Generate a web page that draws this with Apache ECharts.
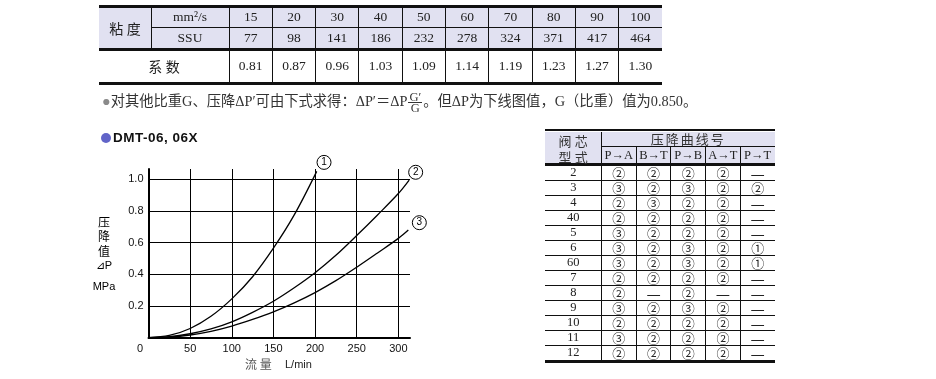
<!DOCTYPE html>
<html>
<head>
<meta charset="utf-8">
<script src="https://cdn.jsdelivr.net/npm/echarts@6/dist/echarts.min.js"></script>
<style>
  html, body { margin:0; padding:0; background:#fff; }
  #page { position:relative; width:936px; height:379px; overflow:hidden; background:#fff; }
  #chart { position:absolute; left:0; top:0; width:936px; height:379px; }
  .ln { position:absolute; background:#111; }
  .bg { position:absolute; background:#e1e1f1; }
  .cell { position:absolute; display:flex; align-items:center; justify-content:center; white-space:nowrap;
          font-family:"Liberation Serif","Noto Sans CJK SC",serif; color:#222; }
  .tx { position:absolute; white-space:nowrap; }
</style>
</head>
<body>
<div id="page">
  <div id="chart"></div>
  <div id="tables"></div>
</div>
<script>
// ---------------- data ----------------
const viscMm2 = ['15','20','30','40','50','60','70','80','90','100'];
const viscSSU = ['77','98','141','186','232','278','324','371','417','464'];
const viscCoef = ['0.81','0.87','0.96','1.03','1.09','1.14','1.19','1.23','1.27','1.30'];

const spoolTypes = ['2','3','4','40','5','6','60','7','8','9','10','11','12'];
const flowPaths = ['P→A','B→T','P→B','A→T','P→T'];
const curvePA = [2,3,2,2,3,3,3,2,2,3,2,3,2];
const curveBT = [2,2,3,2,2,2,2,2,0,2,2,2,2];
const curvePB = [2,3,2,2,2,3,3,2,2,3,2,2,2];
const curveAT = [2,2,2,2,2,2,2,2,0,2,2,2,2];
const curvePT = [0,2,0,0,0,1,1,0,0,0,0,0,0];

const flowQ1 = [0,25,50,75,100,125,150,175,202];
const dropP1 = [0,0.014,0.058,0.135,0.245,0.385,0.565,0.775,1.05];
const flowQ2 = [0,25,50,75,100,125,150,175,200,225,250,275,300,313];
const dropP2 = [0,0.006,0.025,0.055,0.10,0.16,0.23,0.315,0.41,0.52,0.645,0.775,0.91,0.995];
const flowQ3 = [0,25,50,75,100,125,150,175,200,225,250,275,300,312];
const dropP3 = [0,0.004,0.017,0.04,0.073,0.115,0.163,0.22,0.285,0.36,0.445,0.535,0.627,0.68];

const xTicks = [0,50,100,150,200,250,300];
const yTicks = [0.2,0.4,0.6,0.8,1.0];

// ---------------- html tables ----------------
const host = document.getElementById('tables');
function el(cls, css, text) {
  const d = document.createElement('div');
  d.className = cls;
  Object.assign(d.style, css);
  if (text !== undefined) d.textContent = text;
  host.appendChild(d);
  return d;
}
function hl(x1, x2, y, t) { el('ln', {left:x1+'px', top:(y - t/2)+'px', width:(x2-x1)+'px', height:t+'px'}); }
function vl(x, y1, y2, t) { el('ln', {left:(x - t/2)+'px', top:y1+'px', width:t+'px', height:(y2-y1)+'px'}); }
function bg(x1, y1, x2, y2) { el('bg', {left:x1+'px', top:y1+'px', width:(x2-x1)+'px', height:(y2-y1)+'px'}); }
function cell(x1, y1, x2, y2, text, fs, extra) {
  return el('cell', Object.assign({left:x1+'px', top:y1+'px', width:(x2-x1)+'px', height:(y2-y1)+'px', fontSize:fs+'px'}, extra||{}), text);
}

// top table
(function(){
  const L = 99, A = 151, B = 229, W = 43.3, R = B + viscMm2.length * W;
  const yTop = 6.3, yMid = 27.7, yThick = 49.5, yBot = 83.3;
  bg(L, 7.5, R, 48.3);
  hl(L, R, yTop, 2.5);
  hl(A, R, yMid, 1);
  hl(L, R, yThick, 2.5);
  hl(L, R, yBot, 3);
  vl(A, 7.5, 48.3, 1);
  for (let i = 0; i < viscMm2.length; i++) vl(B + i*W, 7.5, 82, 1);
  cell(L, 7.5, A, 48.3, '粘 度', 14);
  cell(A, 7.5, B, 27.2, 'mm²/s', 13.5);
  cell(A, 28.2, B, 48.3, 'SSU', 13.5);
  cell(L, 50.7, B, 81.8, '系 数', 14);
  for (let i = 0; i < viscMm2.length; i++) {
    const x = B + i*W;
    cell(x, 7.5, x+W, 27.2, viscMm2[i], 13.5);
    cell(x, 28.2, x+W, 48.3, viscSSU[i], 13.5);
    cell(x, 50.7, x+W, 81.8, viscCoef[i], 13.5);
  }
})();

// note line
(function(){
  const d = el('tx', {left:'102px', top:'92px', fontFamily:'"Liberation Serif","Noto Sans CJK SC",serif', fontSize:'14.3px', color:'#333', lineHeight:'19px'});
  d.innerHTML = '<span style="color:#8a8a8a">●</span>对其他比重G、压降ΔP′可由下式求得：ΔP′＝ΔP' +
    '<span style="display:inline-block;vertical-align:middle;text-align:center;font-size:12.5px;line-height:10px;margin:0 1px">' +
    '<span style="display:block;border-bottom:1px solid #333;padding:0 1px">G′</span><span style="display:block">G</span></span>' +
    '。但ΔP为下线图值，G（比重）值为0.850。';
})();

// chart title
(function(){
  const d = el('tx', {left:'101px', top:'130px', fontFamily:'"Liberation Sans",Arial,sans-serif', fontSize:'13.5px', fontWeight:'bold', color:'#111', lineHeight:'16px', letterSpacing:'0.5px'});
  d.innerHTML = '<span style="display:inline-block;width:10px;height:10px;border-radius:5px;background:#6164c8;vertical-align:-1px;margin-right:2px"></span>DMT-06, 06X';
})();

// right table
(function(){
  const L = 545, C = 601.5, W = 34.7, R = C + flowPaths.length * W;
  const yTop = 130.2, yHM = 146.5, yHB = 164.3, bodyTop = 165.5, rowH = 14.96, yBot = 361.3;
  bg(L, 131.5, R, 163.1);
  hl(L, R, yTop, 2.5);
  hl(C, R, yHM, 1);
  hl(L, R, yHB, 2.5);
  for (let r = 1; r < spoolTypes.length; r++) hl(L, R, bodyTop + r*rowH, 1);
  hl(L, R, yBot, 2.5);
  vl(C, 131.5, 360, 1);
  for (let c = 1; c < flowPaths.length; c++) vl(C + c*W, yHM, 360, 1);
  cell(L, 132, C, 148, '阀 芯', 13, {color:'#333'});
  cell(L, 148, C, 164, '型 式', 13, {color:'#333'});
  cell(C, 131.5, R, 146, '压降曲线号', 13, {color:'#333', letterSpacing:'2px'});
  for (let c = 0; c < flowPaths.length; c++) cell(C + c*W, 147, C + (c+1)*W, 163, flowPaths[c], 12.5);
  const cols = [curvePA, curveBT, curvePB, curveAT, curvePT];
  const glyph = n => n === 0 ? '—' : ['①','②','③'][n-1];
  for (let r = 0; r < spoolTypes.length; r++) {
    const y1 = bodyTop + r*rowH, y2 = y1 + rowH;
    cell(L, y1, C, y2, spoolTypes[r], 12.5);
    for (let c = 0; c < cols.length; c++) {
      const v = cols[c][r];
      cell(C + c*W, y1, C + (c+1)*W, y2, glyph(v), v === 0 ? 16 : 13, {fontFamily:'"Noto Sans CJK SC",sans-serif', color:'#222'});
    }
  }
})();

// ---------------- echarts chart ----------------
const chart = echarts.init(document.getElementById('chart'), null, {renderer:'canvas'});
const zip = (xs, ys) => xs.map((x, i) => [x, ys[i]]);
function curve(name, xs, ys, off) {
  const last = xs.length - 1;
  return {
    type:'line', name, data: zip(xs, ys), smooth: 0.35, showSymbol:false, silent:true, clip:false,
    lineStyle:{color:'#000', width:1.3}, itemStyle:{color:'#000'},
    markPoint:{
      symbol:'circle', symbolSize:14, silent:true,
      itemStyle:{color:'#fff', borderColor:'#000', borderWidth:1},
      label:{show:true, position:'inside', formatter:name, color:'#000', fontSize:10, fontFamily:'Liberation Sans'},
      data:[{coord:[xs[last], ys[last]], symbolOffset:off}]
    }
  };
}
const axisFont = {color:'#111', fontSize:11, fontFamily:'"Liberation Sans",Arial,sans-serif'};
chart.setOption({
  animation:false,
  grid:{left:148.5, top:169, right:526, bottom:41.3, containLabel:false},
  xAxis:{
    type:'value', min:0, max:314, interval:50,
    axisLine:{show:true, lineStyle:{color:'#000', width:2}},
    axisTick:{show:false},
    splitLine:{show:true, showMinLine:false, showMaxLine:false, lineStyle:{color:'#000', width:1}},
    axisLabel:Object.assign({margin:6, showMaxLabel:false, hideOverlap:false,
      formatter:v => xTicks.indexOf(v) < 0 ? '' : (v === 0 ? '{z|0}' : String(v)),
      rich:{z:{padding:[0,17,0,0], color:'#111', fontSize:11, fontFamily:'"Liberation Sans",Arial,sans-serif'}}}, axisFont)
  },
  yAxis:{
    type:'value', min:0, max:1.065, interval:0.2,
    axisLine:{show:true, lineStyle:{color:'#000', width:2}},
    axisTick:{show:false},
    splitLine:{show:true, showMinLine:false, showMaxLine:false, lineStyle:{color:'#000', width:1}},
    axisLabel:Object.assign({margin:5, showMaxLabel:false, hideOverlap:false,
      formatter:v => {const t = yTicks.find(k => Math.abs(k - v) < 1e-6); return t === undefined ? '' : t.toFixed(1);}}, axisFont)
  },
  graphic:[
    {type:'text', x:104, y:214.6, silent:true, style:{
      text:'{c|压}\n{c|降}\n{c|值}\n{d|⊿P}\n{m|MPa}', align:'center', verticalAlign:'top',
      rich:{
        c:{fontSize:12, lineHeight:14.7, color:'#555', fontFamily:'"Noto Sans CJK SC"', align:'center'},
        d:{fontSize:11, lineHeight:14.7, color:'#222', fontFamily:'"Liberation Sans"', align:'center'},
        m:{fontSize:11, lineHeight:27, color:'#222', fontFamily:'"Liberation Sans"', align:'center'}
      }}},
    {type:'text', x:245, y:364.5, silent:true, style:{text:'流 量', fontSize:12, fill:'#555', fontFamily:'"Noto Sans CJK SC"', verticalAlign:'middle'}},
    {type:'text', x:285, y:364.5, silent:true, style:{text:'L/min', fontSize:11, fill:'#222', fontFamily:'"Liberation Sans"', verticalAlign:'middle'}}
  ],
  series:[
    curve('1', flowQ1, dropP1, [7.3,-9]),
    curve('2', flowQ2, dropP2, [6.5,-7.8]),
    curve('3', flowQ3, dropP3, [11,-7.3])
  ]
});
</script>
</body>
</html>
